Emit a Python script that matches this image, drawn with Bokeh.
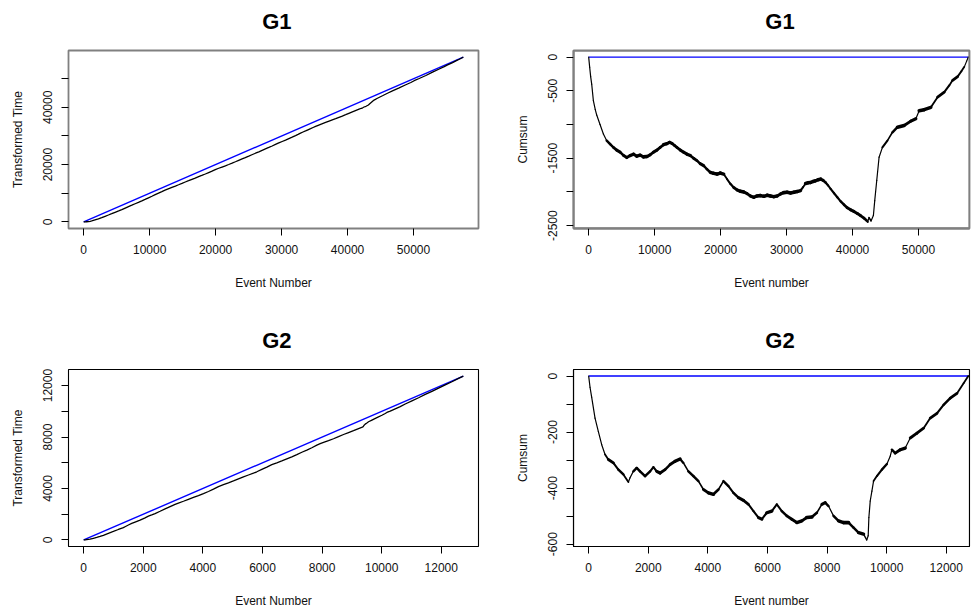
import numpy as np
from bokeh.plotting import figure
from bokeh.models import FixedTicker, Range1d, ColumnDataSource, BoxAnnotation
from bokeh.core.properties import value
from bokeh.layouts import column, row
from bokeh.embed import file_html
from bokeh.resources import INLINE

# ---------------- data ----------------
g1_title = "G1"
g2_title = "G2"

g1_events = [0, 150, 300, 456, 709, 1000, 1216, 1722, 2229, 2735, 3250, 3749, 4250, 4762,
             5300, 5775, 6300, 6788, 7300, 7801, 8300, 8815, 9300, 9828, 10341, 10841,
             11350, 11854, 12250, 12614, 13000, 13374, 13900, 14387, 14900, 15400, 15900,
             16413, 16900, 17427, 17900, 18440, 18950, 19453, 19950, 20466, 20973, 21480,
             21986, 22500, 22999, 23500, 24012, 24500, 25025, 25500, 26039, 26550, 27052,
             27550, 28065, 28570, 29078, 29580, 30091, 30600, 31104, 31600, 32117, 32500,
             32877, 33250, 33637, 34000, 34397, 34780, 35157, 35550, 35917, 36300, 36677,
             37200, 37690, 38200, 38703, 39200, 39716, 40200, 40729, 41200, 41743, 42100,
             42300, 42503, 42800, 43161, 43364, 43668, 44022, 44529, 45289, 46049, 46809,
             47822, 48835, 49595, 50101, 50861, 51874, 52888, 53901, 54661, 55167, 55927,
             56500, 56940, 57300, 57550]
g1_cumsum = [0, -150, -290, -400, -644, -780, -860, -1000, -1140, -1240, -1290, -1340, -1380,
             -1410, -1460, -1490, -1460, -1440, -1470, -1455, -1480, -1475, -1450, -1410,
             -1380, -1340, -1300, -1285, -1265, -1280, -1310, -1340, -1380, -1410, -1440,
             -1460, -1500, -1535, -1580, -1610, -1660, -1710, -1725, -1735, -1720, -1735,
             -1810, -1880, -1935, -1970, -1990, -2000, -2025, -2060, -2080, -2060, -2055,
             -2065, -2050, -2060, -2070, -2060, -2030, -2010, -2005, -2015, -2005, -1995,
             -1980, -1930, -1875, -1865, -1860, -1845, -1835, -1820, -1810, -1830, -1860,
             -1905, -1955, -2020, -2080, -2140, -2190, -2235, -2265, -2290, -2320, -2350,
             -2390, -2420, -2445, -2380, -2430, -2350, -2130, -1830, -1485, -1340, -1240,
             -1115, -1040, -1015, -950, -915, -795, -780, -745, -595, -520, -420, -345,
             -290, -210, -145, -60, 0]

g2_events = [0, 45, 100, 213, 325, 437, 549, 660, 828, 996, 1164, 1332, 1388, 1500, 1612,
             1724, 1892, 2060, 2172, 2284, 2396, 2564, 2732, 2900, 3067, 3179, 3347, 3515,
             3683, 3851, 4019, 4187, 4355, 4522, 4690, 4858, 5026, 5194, 5362, 5530, 5698,
             5810, 5978, 6146, 6313, 6481, 6649, 6817, 6985, 7153, 7321, 7489, 7657, 7825,
             7937, 8049, 8216, 8384, 8552, 8720, 8888, 9056, 9224, 9330, 9380, 9403, 9448,
             9504, 9560, 9672, 9840, 10008, 10119, 10175, 10287, 10455, 10623, 10791, 11015,
             11239, 11463, 11687, 11910, 12134, 12358, 12582, 12740]
g2_cumsum = [0, -40, -75, -150, -198, -245, -280, -298, -310, -334, -351, -378, -363, -340,
             -328, -340, -357, -340, -325, -340, -346, -334, -316, -304, -296, -310, -340,
             -357, -375, -405, -417, -422, -405, -375, -393, -417, -434, -444, -458, -482,
             -505, -511, -488, -482, -458, -482, -499, -511, -523, -517, -505, -503, -488,
             -458, -452, -464, -499, -517, -523, -523, -541, -559, -564, -585, -570, -505,
             -446, -411, -375, -357, -334, -314, -286, -263, -275, -263, -257, -221, -204,
             -186, -150, -133, -103, -79, -62, -26, 0]

g1_xticks = [0, 10000, 20000, 30000, 40000, 50000]
g1_xlabels = ["0", "10000", "20000", "30000", "40000", "50000"]
g1_tt_yticks = [0, 10000, 20000, 30000, 40000, 50000]
g1_tt_ylabels = ["0", "", "20000", "", "40000", ""]
g1_cs_yticks = [0, -500, -1000, -1500, -2000, -2500]
g1_cs_ylabels = ["0", "-500", "", "-1500", "", "-2500"]

g2_xticks = [0, 2000, 4000, 6000, 8000, 10000, 12000]
g2_xlabels = ["0", "2000", "4000", "6000", "8000", "10000", "12000"]
g2_tt_yticks = [0, 2000, 4000, 6000, 8000, 10000, 12000]
g2_tt_ylabels = ["0", "", "4000", "", "8000", "", "12000"]
g2_cs_yticks = [0, -100, -200, -300, -400, -500, -600]
g2_cs_ylabels = ["0", "", "-200", "", "-400", "", "-600"]

FONT = "Liberation Sans"
FRAME_W = 410      # full R frame width
FRAME_H = 178
ROW_H = 305


def rrange(lo, hi):
    pad = 0.04 * (hi - lo)
    return (lo - pad, hi + pad)


def title_fig(text, w, h, cx, cy_from_top):
    t = figure(width=w, height=h, output_backend="svg", toolbar_location=None,
               x_range=Range1d(0, w), y_range=Range1d(0, h),
               x_axis_type=None, y_axis_type=None, min_border=0)
    t.outline_line_color = None
    t.grid.visible = False
    t.background_fill_color = "white"
    t.border_fill_color = "white"
    t.text(x=[cx], y=[h - cy_from_top], text=[text], text_align="center",
           text_baseline="middle", text_font=value(FONT), text_font_size="22px",
           text_font_style="bold", text_color="black")
    return t


def make_fig(xlab, ylab, xr, yr, xticks, xlabels, yticks, ylabels,
             w, h, bl, br, bt, bb, frame_color, frame_lw, extra_frame):
    p = figure(width=w, height=h, output_backend="svg", toolbar_location=None,
               x_range=Range1d(*xr), y_range=Range1d(*yr),
               min_border_left=bl, min_border_right=br,
               min_border_top=bt, min_border_bottom=bb)
    p.background_fill_color = "white"
    p.border_fill_color = "white"
    p.xgrid.visible = False
    p.ygrid.visible = False
    p.outline_line_color = frame_color
    p.outline_line_width = frame_lw
    p.outline_line_alpha = 1.0
    if extra_frame:
        p.add_layout(BoxAnnotation(fill_alpha=0, line_color=frame_color,
                                   line_width=frame_lw, line_alpha=1.0))

    p.xaxis.ticker = FixedTicker(ticks=xticks, minor_ticks=[])
    p.yaxis.ticker = FixedTicker(ticks=yticks, minor_ticks=[])
    p.xaxis.major_label_overrides = {t: l for t, l in zip(xticks, xlabels)}
    p.yaxis.major_label_overrides = {t: l for t, l in zip(yticks, ylabels)}
    p.yaxis.major_label_orientation = "vertical"
    for ax in (p.xaxis[0], p.yaxis[0]):
        ax.axis_line_color = frame_color if extra_frame else None
        ax.axis_line_width = frame_lw
        ax.major_tick_out = 7
        ax.major_tick_in = 0
        ax.major_tick_line_color = "black"
        ax.major_label_text_font = FONT
        ax.major_label_text_font_size = "12px"
        ax.major_label_text_color = "#111111"
        ax.major_label_standoff = 9
        ax.axis_label_text_font = FONT
        ax.axis_label_text_font_size = "12px"
        ax.axis_label_text_font_style = "normal"
        ax.axis_label_text_color = "#111111"
    p.xaxis.axis_label = xlab
    p.yaxis.axis_label = ylab
    p.xaxis.axis_label_standoff = 19
    p.yaxis.axis_label_standoff = 16
    return p


def cum_line(p, ev, cs, xr, yr, fw, fh):
    ev = np.asarray(ev, float)
    cs = np.asarray(cs, float)
    sx = fw / (xr[1] - xr[0])
    sy = fh / (yr[1] - yr[0])
    slope = np.abs(np.diff(cs) * sy) / np.maximum(np.diff(ev) * sx, 1e-6)
    widths = np.clip(3.8 - 1.3 * slope, 1.2, 3.6)
    src = ColumnDataSource(dict(x0=ev[:-1], y0=cs[:-1], x1=ev[1:], y1=cs[1:], w=widths))
    p.segment("x0", "y0", "x1", "y1", source=src, line_width="w",
              line_color="black", line_cap="round")


def build(title, events, cumsum, xticks, xlabels, tt_yt, tt_yl, cs_yt, cs_yl,
          top_row):
    n = events[-1]
    transformed = [e + c for e, c in zip(events, cumsum)]
    xr = rrange(0, n)
    yr_tt = rrange(min(0, min(transformed)), max(transformed))
    yr_cs = rrange(min(cumsum), max(0, max(cumsum)))
    if top_row:
        frame_top, title_y, fc, flw = 50, 21, "#808080", 1.8
    else:
        frame_top, title_y, fc, flw = 64, 35, "black", 1.1
    th = frame_top - 10                      # height of the title strip
    ph = ROW_H - th                          # height of the plot below it
    bt, bb = 10, ph - 10 - FRAME_H

    # left panel: transformed time vs event number
    left = make_fig("Event Number", "Transformed Time", xr, yr_tt,
                    xticks, xlabels, tt_yt, tt_yl,
                    490, ph, 68, 490 - 68 - FRAME_W, bt, bb, fc, flw, False)
    left.line([0, n], [0, n], line_color="#0000ff", line_width=1.4)
    left.line(events, transformed, line_color="black", line_width=1.3)
    left_t = title_fig(title, 490, th, 68 + FRAME_W / 2 - 24, title_y)

    # right panel: cumsum (frame runs past the window edge in the reference)
    fw_right = 396
    xr_r = (xr[0], xr[0] + (xr[1] - xr[0]) * fw_right / FRAME_W)
    right = make_fig("Event number", "Cumsum", xr_r, yr_cs,
                     xticks, xlabels, cs_yt, cs_yl,
                     487, ph, 83, 487 - 83 - fw_right, bt, bb, fc, flw, True)
    right.line([0, n], [0, 0], line_color="#0000ff", line_width=1.4)
    cum_line(right, events, cumsum, xr, yr_cs, FRAME_W, FRAME_H)
    right_t = title_fig(title, 487, th, 83 + FRAME_W / 2 - 34, title_y)

    return row(column(left_t, left, spacing=0), column(right_t, right, spacing=0), spacing=0)


top = build(g1_title, g1_events, g1_cumsum, g1_xticks, g1_xlabels,
            g1_tt_yticks, g1_tt_ylabels, g1_cs_yticks, g1_cs_ylabels, True)
bottom = build(g2_title, g2_events, g2_cumsum, g2_xticks, g2_xlabels,
               g2_tt_yticks, g2_tt_ylabels, g2_cs_yticks, g2_cs_ylabels, False)

layout = column(top, bottom, spacing=0)
open("out.html", "w").write(file_html(layout, INLINE))
